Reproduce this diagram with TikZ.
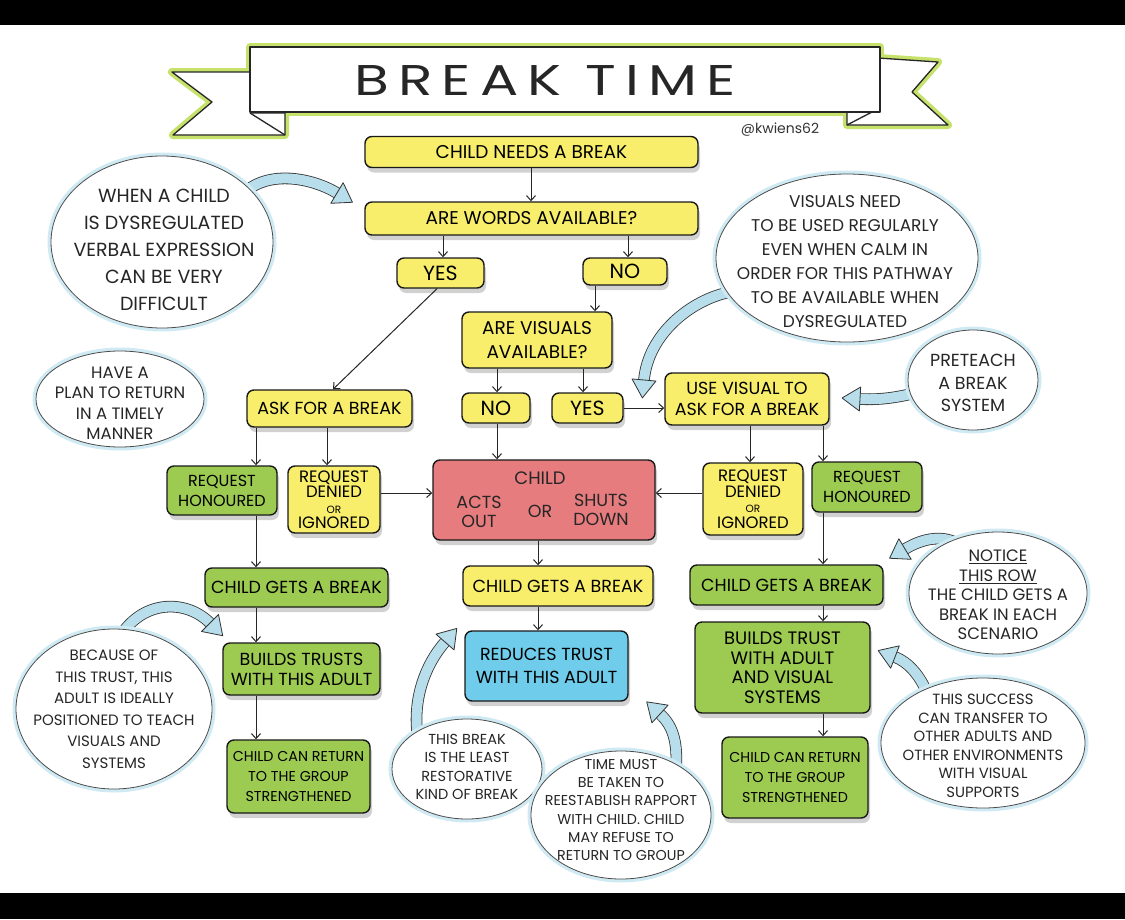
\documentclass[tikz,border=0pt]{standalone}
\usepackage{fontspec}
\usepackage{graphicx}
\setmainfont{Poppins}
\newfontfamily\titlefont[LetterSpace=16]{Poppins}
\usetikzlibrary{shapes.geometric,arrows.meta,calc,shadows}
\definecolor{ybox}{HTML}{F8EE6C}
\definecolor{gbox}{HTML}{9DCB52}
\definecolor{rbox}{HTML}{E67C7E}
\definecolor{bbox}{HTML}{6FCDEB}
\definecolor{glow}{HTML}{CFEAF2}
\definecolor{arrowblue}{HTML}{B7DEEA}
\definecolor{bannerglow}{HTML}{C6E26A}
\newcommand{\fBig}{\fontsize{18.5}{21}\selectfont}
\newcommand{\fYN}{\fontsize{20.5}{22}\selectfont}
\newcommand{\fBox}{\fontsize{17.5}{21}\selectfont}
\newcommand{\fTight}{\fontsize{16.5}{15.5}\selectfont}
\newcommand{\fSmall}{\fontsize{10.5}{11}\selectfont}
\newcommand{\blockarr}[4]{%
  \draw[band] #1 .. controls #2 and #3 .. #4;
  \filldraw[bhead] ($#4!12pt!90:#3$) -- ($#4!-18pt!#3$) -- ($#4!12pt!-90:#3$) -- cycle;}
\begin{document}
\begin{tikzpicture}[x=1pt,y=-1pt,
  box/.style={draw=black!90, line width=1.4pt, rounded corners=7pt, inner sep=0pt, align=center,
    font=\fBox, drop shadow={shadow xshift=2pt, shadow yshift=-5pt, fill=black!40, opacity=0.45}},
  yb/.style={box, fill=ybox},
  gb/.style={box, fill=gbox},
  rb/.style={box, fill=rbox},
  bb/.style={box, fill=bbox},
  conn/.style={-{Straight Barb[length=5pt,width=9pt]}, line width=1pt, draw=black!85},
  callout/.style={ellipse, draw=black!70, line width=0.8pt, fill=white, inner sep=0pt,
    preaction={draw=glow, line width=7pt}},
  ctext/.style={align=center, text=black!85, inner sep=0pt},
  band/.style={draw=black!80, line width=0.8pt, double=arrowblue, double distance=10pt},
  bhead/.style={fill=arrowblue, draw=black!80, line width=0.8pt, line join=round},
]
\useasboundingbox (0,0) rectangle (1125,919);
\fill[white] (0,0) rectangle (1125,919);
\fill[black] (0,0) rectangle (1125,25);
\fill[black] (0,893) rectangle (1125,919);

% ---------- banner ----------
\begin{scope}[line join=round]
\draw[bannerglow, line width=8pt] (252,72) -- (172,72) -- (212,102) -- (173,135) -- (285,135) -- (285,113);
\draw[bannerglow, line width=8pt] (878,58) -- (938,62) -- (912,92) -- (948,125) -- (847,125) -- (847,112);
\draw[bannerglow, line width=8pt] (250,47) rectangle (880,112);
\filldraw[fill=white, draw=black!85, line width=1.3pt] (252,72) -- (172,72) -- (212,102) -- (173,135) -- (285,135) -- (285,113) -- (252,113);
\filldraw[fill=white, draw=black!85, line width=1.3pt] (878,58) -- (938,62) -- (912,92) -- (948,125) -- (847,125) -- (847,112) -- (878,112);
\filldraw[fill=white, draw=black!85, line width=1.3pt] (250,47) rectangle (880,112);
\draw[black!85, line width=1.3pt] (250,113) -- (285,135);
\draw[black!85, line width=1.3pt] (872,112) -- (847,125);
\end{scope}
\node[inner sep=0pt, font=\titlefont\fontsize{43}{46}\selectfont, text=black!85] (title) at (545,80) {\scalebox{1.32}[1]{BREAK TIME}};
\node[inner sep=0pt, font=\fontsize{14}{16}\selectfont, text=black!80] (credit) at (780,130) {@kwiens62};

% ---------- block arrows ----------
\blockarr{(245,192)}{(270,170)}{(312,178)}{(337,193)}
\blockarr{(730,292)}{(690,300)}{(648,335)}{(644,380)}
\blockarr{(915,393)}{(895,398)}{(878,400)}{(860,399)}
\blockarr{(960,545)}{(945,535)}{(925,537)}{(905,549)}
\blockarr{(928,695)}{(920,675)}{(908,662)}{(895,657)}
\blockarr{(118,640)}{(140,600)}{(185,598)}{(210,623)}
\blockarr{(418,738)}{(412,700)}{(425,665)}{(445,642)}
\blockarr{(676,770)}{(678,740)}{(672,725)}{(660,714)}

% ---------- callouts ----------
\node[callout, minimum width=222, minimum height=172] (cA) at (162,242) {};
\node[ctext, font=\fontsize{19}{27}\selectfont] (cAt) at (164,250) {WHEN A CHILD\\IS DYSREGULATED\\VERBAL EXPRESSION\\CAN BE VERY\\DIFFICULT};
\node[callout, minimum width=168, minimum height=96] (cB) at (120,399) {};
\node[ctext, font=\fontsize{16.5}{20.5}\selectfont] (cBt) at (120,403) {HAVE A\\PLAN TO RETURN\\IN A TIMELY\\MANNER};
\node[callout, minimum width=262, minimum height=168] (cC) at (847,258) {};
\node[ctext, font=\fontsize{17}{24}\selectfont] (cCt) at (845,262) {VISUALS NEED\\TO BE USED REGULARLY\\EVEN WHEN CALM IN\\ORDER FOR THIS PATHWAY\\TO BE AVAILABLE WHEN\\DYSREGULATED};
\node[callout, minimum width=130, minimum height=100] (cD) at (973,380) {};
\node[ctext, font=\fontsize{17.5}{22.5}\selectfont] (cDt) at (973,383) {PRETEACH\\A BREAK\\SYSTEM};
\node[callout, minimum width=178, minimum height=122] (cE) at (998,593) {};
\node[ctext, font=\fontsize{16.5}{19.5}\selectfont] (cEt) at (998,595) {\underline{NOTICE}\\\underline{THIS ROW}\\THE CHILD GETS A\\BREAK IN EACH\\SCENARIO};
\node[callout, minimum width=204, minimum height=130] (cF) at (983,743) {};
\node[ctext, font=\fontsize{14.8}{18.5}\selectfont] (cFt) at (983,746) {THIS SUCCESS\\CAN TRANSFER TO\\OTHER ADULTS AND\\OTHER ENVIRONMENTS\\WITH VISUAL\\SUPPORTS};
\node[callout, minimum width=196, minimum height=160] (cG) at (114,709) {};
\node[ctext, font=\fontsize{15}{21.5}\selectfont] (cGt) at (114,709) {BECAUSE OF\\THIS TRUST, THIS\\ADULT IS IDEALLY\\POSITIONED TO TEACH\\VISUALS AND\\SYSTEMS};
\node[callout, minimum width=150, minimum height=100] (cH) at (467,769) {};
\node[ctext, font=\fontsize{14.5}{18.5}\selectfont] (cHt) at (467,767) {THIS BREAK\\IS THE LEAST\\RESTORATIVE\\KIND OF BREAK};
\node[callout, minimum width=180, minimum height=128] (cI) at (621,815) {};
\node[ctext, font=\fontsize{14.3}{18.3}\selectfont] (cIt) at (621,810) {TIME MUST\\BE TAKEN TO\\REESTABLISH RAPPORT\\WITH CHILD. CHILD\\MAY REFUSE TO\\RETURN TO GROUP};

% ---------- boxes ----------
\node[yb, minimum width=333, minimum height=31, font=\fBig] (cnb) at (531.5,152) {CHILD NEEDS A BREAK};
\node[yb, minimum width=333, minimum height=33, font=\fBig] (awa) at (531.5,218.5) {ARE WORDS AVAILABLE?};
\node[yb, minimum width=87, minimum height=30, font=\fYN] (yes) at (440.5,273) {YES};
\node[yb, minimum width=84, minimum height=27, font=\fYN] (no) at (625,271.5) {NO};
\node[yb, minimum width=150, minimum height=56, font=\fontsize{18.5}{24}\selectfont] (ava) at (537,340) {ARE VISUALS\\AVAILABLE?};
\node[yb, minimum width=68, minimum height=30, font=\fYN] (no2) at (496,408) {NO};
\node[yb, minimum width=71, minimum height=30, font=\fYN] (yes2) at (587.5,408) {YES};
\node[yb, minimum width=164, minimum height=52, font=\fontsize{17.5}{21}\selectfont] (uvt) at (747,399) {USE VISUAL TO\\ASK FOR A BREAK};
\node[yb, minimum width=165, minimum height=37] (afb) at (329.5,408.5) {ASK FOR A BREAK};
\node[gb, minimum width=110, minimum height=49, font=\fontsize{16}{20}\selectfont] (rhl) at (222,490.5) {REQUEST\\HONOURED};
\node[yb, minimum width=92, minimum height=67, font=\fTight] (rdl) at (334,499.5) {REQUEST\\DENIED\\{\fSmall OR}\\IGNORED};
\node[rb, minimum width=222, minimum height=80] (red) at (544,500) {};
\node[ctext, font=\fontsize{18}{21}\selectfont] (redchild) at (540,478) {CHILD};
\node[ctext, font=\fontsize{17.5}{19}\selectfont] (redacts) at (479,512) {ACTS\\OUT};
\node[ctext, font=\fontsize{17.5}{19}\selectfont] (redor) at (540,511) {OR};
\node[ctext, font=\fontsize{17.5}{19}\selectfont] (redshuts) at (601,510) {SHUTS\\DOWN};
\node[yb, minimum width=100, minimum height=72, font=\fTight] (rdr) at (753,499) {REQUEST\\DENIED\\{\fSmall OR}\\IGNORED};
\node[gb, minimum width=110, minimum height=50, font=\fontsize{16}{20}\selectfont] (rhr) at (867,487) {REQUEST\\HONOURED};
\node[gb, minimum width=183, minimum height=39] (cgbl) at (296.5,587.5) {CHILD GETS A BREAK};
\node[yb, minimum width=190, minimum height=40] (cgbc) at (558,586) {CHILD GETS A BREAK};
\node[gb, minimum width=193, minimum height=40] (cgbr) at (786.5,585) {CHILD GETS A BREAK};
\node[gb, minimum width=157, minimum height=52, font=\fontsize{17.5}{20}\selectfont] (btl) at (301.5,669) {BUILDS TRUSTS\\WITH THIS ADULT};
\node[bb, minimum width=163, minimum height=70, font=\fontsize{17.5}{23}\selectfont] (rtc) at (546.5,666) {REDUCES TRUST\\WITH THIS ADULT};
\node[gb, minimum width=175, minimum height=91, font=\fontsize{18}{19.5}\selectfont] (btr) at (782.5,667.5) {BUILDS TRUST\\WITH ADULT\\AND VISUAL\\SYSTEMS};
\node[gb, minimum width=143, minimum height=73, font=\fontsize{14.3}{20}\selectfont] (crl) at (298.5,776.5) {CHILD CAN RETURN\\TO THE GROUP\\STRENGTHENED};
\node[gb, minimum width=146, minimum height=81, font=\fontsize{14.3}{20}\selectfont] (crr) at (795,777.5) {CHILD CAN RETURN\\TO THE GROUP\\STRENGTHENED};

% ---------- connector columns ----------
\coordinate (x256) at (256,0);
\coordinate (x327) at (327,0);
\coordinate (x333) at (333,0);
\coordinate (x437) at (437,0);
\coordinate (x443) at (443,0);
\coordinate (x497) at (497,0);
\coordinate (x531) at (531,0);
\coordinate (x538) at (538,0);
\coordinate (x583) at (583,0);
\coordinate (x595) at (595,0);
\coordinate (x628) at (628,0);
\coordinate (x750) at (750,0);
\coordinate (x823) at (823,0);
\coordinate (y493) at (0,493);

\draw[conn] (cnb.south -| x531) -- (awa.north -| x531);
\draw[conn] (awa.south -| x443) -- (yes.north -| x443);
\draw[conn] (awa.south -| x628) -- (no.north -| x628);
\draw[conn] (yes.south -| x437) -- (afb.north -| x333);
\draw[conn] (no.south -| x595) -- (ava.north -| x595);
\draw[conn] (ava.south -| x497) -- (no2.north -| x497);
\draw[conn] (ava.south -| x583) -- (yes2.north -| x583);
\draw[conn] (yes2.east) -- (yes2.east -| uvt.west);
\draw[conn] (afb.south -| x256) -- (rhl.north -| x256);
\draw[conn] (afb.south -| x327) -- (rdl.north -| x327);
\draw[conn] (no2.south -| x497) -- (red.north -| x497);
\draw[conn] (rdl.east |- y493) -- (red.west |- y493);
\draw[conn] (rdr.west |- y493) -- (red.east |- y493);
\draw[conn] (uvt.south -| x750) -- (rdr.north -| x750);
\draw[conn] (uvt.south -| x823) -- (rhr.north -| x823);
\draw[conn] (rhl.south -| x256) -- (cgbl.north -| x256);
\draw[conn] (red.south -| x538) -- (cgbc.north -| x538);
\draw[conn] (rhr.south -| x823) -- (cgbr.north -| x823);
\draw[conn] (cgbl.south -| x256) -- (btl.north -| x256);
\draw[conn] (cgbc.south -| x538) -- (rtc.north -| x538);
\draw[conn] (cgbr.south -| x823) -- (btr.north -| x823);
\draw[conn] (btl.south -| x256) -- (crl.north -| x256);
\draw[conn] (btr.south -| x823) -- (crr.north -| x823);
\end{tikzpicture}
\end{document}
